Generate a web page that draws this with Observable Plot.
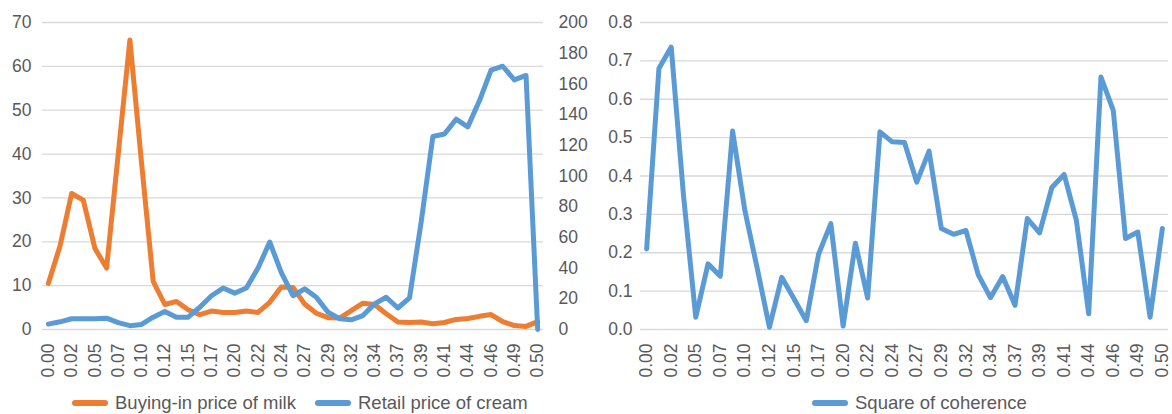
<!DOCTYPE html>
<html><head><meta charset="utf-8">
<script src="https://cdn.jsdelivr.net/npm/d3@7"></script>
<script src="https://cdn.jsdelivr.net/npm/@observablehq/plot@0.6"></script>
<style>
body{margin:0;background:#fff;font-family:"Liberation Sans",Arial,sans-serif;}
#wrap{position:relative;width:1172px;height:414px;overflow:hidden;background:#fff;}
#left{position:absolute;left:0;top:0;}
#right{position:absolute;left:590px;top:0;}
.item{position:absolute;top:395px;height:16px;line-height:16px;display:flex;align-items:center;font-size:18.5px;color:#595959;white-space:nowrap;}
.sw{display:inline-block;width:36px;height:5.5px;border-radius:3px;margin-right:7px;}
</style></head>
<body><div id="wrap"><div id="left"></div><div id="right"></div></div>
<script>
const tickLabels = ["0.00","0.02","0.05","0.07","0.10","0.12","0.15","0.17","0.20","0.22","0.24","0.27","0.29","0.32","0.34","0.37","0.39","0.41","0.44","0.46","0.49","0.50"];
const milk = [10.5,19,31,29.5,18.5,14,40,66,38,11,5.7,6.4,4.5,3.4,4.2,3.9,3.9,4.2,3.9,6.2,9.7,9.6,5.8,3.7,2.7,2.6,4.3,6.0,5.7,3.6,1.7,1.6,1.7,1.3,1.6,2.3,2.5,3.0,3.4,1.8,0.9,0.7,1.8];
const cream = [3.5,5,7,7,7,7.4,4.5,2.5,3.3,8,11.7,8,8,14.5,22,27,23.7,27,40,57,37,22,26.5,21,11.3,7,6.3,9.1,16.7,21,14,20.6,70,125.7,127.4,137,132,149,169,171.5,162.6,165.5,0];
const coherence = [0.21,0.68,0.736,0.35,0.032,0.171,0.139,0.517,0.31,0.16,0.006,0.136,0.08,0.023,0.196,0.276,0.009,0.225,0.082,0.515,0.489,0.487,0.384,0.465,0.263,0.248,0.258,0.143,0.083,0.138,0.063,0.289,0.252,0.37,0.404,0.284,0.041,0.658,0.571,0.237,0.254,0.032,0.263];
const leftTicks = [0,10,20,30,40,50,60,70];
const rightTicks = [0,20,40,60,80,100,120,140,160,180,200];
const cohTicks = [0,0.1,0.2,0.3,0.4,0.5,0.6,0.7,0.8];
const names = ["Buying-in price of milk","Retail price of cream","Square of coherence"];
const colors = ["#ED7D31","#5B9BD5"];

const k = 70/200;
const tickIdx = tickLabels.map((_, j) => j * 2);
const style = {fontFamily:'"Liberation Sans",Arial,sans-serif', fontSize:"17.5px", color:"#595959", background:"transparent", overflow:"visible"};
const lineOpts = {strokeWidth:5, strokeLinejoin:"round", strokeLinecap:"round"};
const grid = "#D9D9D9";

const left = Plot.plot({
  width:600, height:390, marginLeft:42, marginRight:57, marginTop:22, marginBottom:61,
  style,
  x:{domain:[-0.5,42.5]},
  y:{domain:[0,70]},
  marks:[
    Plot.gridY(leftTicks, {stroke:grid, strokeOpacity:1, strokeWidth:1.3}),
    Plot.axisY(leftTicks, {anchor:"left", tickSize:0, tickPadding:11, label:null}),
    Plot.axisY(rightTicks.map(v => v * k), {anchor:"right", tickSize:0, tickPadding:15, label:null, tickFormat: d => String(Math.round(d / k))}),
    Plot.axisX(tickIdx, {anchor:"bottom", tickSize:0, tickPadding:14, tickRotate:-90, label:null, tickFormat: i => tickLabels[i / 2]}),
    Plot.lineY(milk, {x:(d, i) => i, y:d => d, stroke:colors[0], ...lineOpts}),
    Plot.lineY(cream, {x:(d, i) => i, y:d => d * k, stroke:colors[1], ...lineOpts})
  ]
});
document.getElementById("left").appendChild(left);

const right = Plot.plot({
  width:582, height:390, marginLeft:50, marginRight:4, marginTop:22, marginBottom:61,
  style,
  x:{domain:[-0.5,42.5]},
  y:{domain:[0,0.8]},
  marks:[
    Plot.gridY(cohTicks, {stroke:grid, strokeOpacity:1, strokeWidth:1.3}),
    Plot.axisY(cohTicks, {anchor:"left", tickSize:0, tickPadding:8, label:null, tickFormat: d3.format(".1f")}),
    Plot.axisX(tickIdx, {anchor:"bottom", tickSize:0, tickPadding:14, tickRotate:-90, label:null, tickFormat: i => tickLabels[i / 2]}),
    Plot.lineY(coherence, {x:(d, i) => i, y:d => d, stroke:colors[1], ...lineOpts})
  ]
});
document.getElementById("right").appendChild(right);

const wrap = document.getElementById("wrap");
[[names[0], colors[0], 72], [names[1], colors[1], 315], [names[2], colors[1], 812]].forEach(([t, c, x]) => {
  const d = document.createElement("div");
  d.className = "item";
  d.style.left = x + "px";
  const s = document.createElement("span");
  s.className = "sw"; s.style.background = c;
  d.appendChild(s);
  d.appendChild(document.createTextNode(t));
  wrap.appendChild(d);
});
</script>
</body></html>
